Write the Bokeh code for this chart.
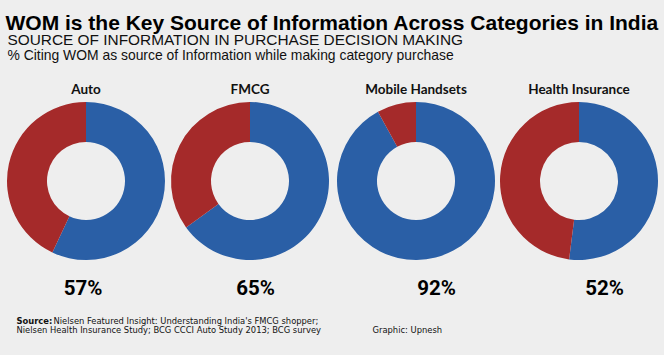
import math
from bokeh.plotting import figure
from bokeh.models import ColumnDataSource, Range1d, Label, GlobalInlineStyleSheet
from bokeh.core.properties import value
from bokeh.embed import file_html
from bokeh.resources import INLINE

# ---- data ----
categories = ["Auto", "FMCG", "Mobile Handsets", "Health Insurance"]
wom_pct = [57, 65, 92, 52]
pct_labels = ["57%", "65%", "92%", "52%"]

title = "WOM is the Key Source of Information Across Categories in India"
subtitle1 = "SOURCE OF INFORMATION IN PURCHASE DECISION MAKING"
subtitle2 = "% Citing WOM as source of Information while making category purchase"
source_bold = "Source:"
source_line1 = "Nielsen Featured Insight: Understanding India's FMCG shopper;"
source_line2 = "Nielsen Health Insurance Study; BCG CCCI Auto Study 2013; BCG survey"
credit = "Graphic: Upnesh"

# ---- layout (reference pixel coordinates, y measured downward) ----
H = 355
W_FIG, H_FIG = 664, 355
centers_x = [85.5, 249.5, 415.5, 578.5]
center_y = 180.5
label_x = [82.5, 255, 436, 604]
R_OUT, R_IN = 79, 39

BLUE = "#2a5fa6"
RED = "#a52a2a"
BG = "#eeeeee"

def Y(py):
    return H - py

p = figure(width=W_FIG, height=H_FIG, output_backend="svg", toolbar_location=None,
           x_range=Range1d(0, W_FIG), y_range=Range1d(0, H_FIG),
           min_border=0, outline_line_color=None,
           background_fill_color=BG, border_fill_color=BG)
p.axis.visible = False
p.grid.visible = False
p.stylesheets = [GlobalInlineStyleSheet(css=f"body {{ background: {BG}; }}")]

frac = [v / 100.0 for v in wom_pct]
src = ColumnDataSource(dict(
    x=centers_x,
    y=[Y(center_y)] * len(categories),
    start=[math.pi / 2] * len(categories),
    end=[math.pi / 2 - f * 2 * math.pi for f in frac],
))

# blue: WOM share, clockwise from 12 o'clock
p.annular_wedge(x="x", y="y", inner_radius=R_IN, outer_radius=R_OUT,
                start_angle="start", end_angle="end", direction="clock",
                fill_color=BLUE, line_color=None, source=src)
# red: remainder
p.annular_wedge(x="x", y="y", inner_radius=R_IN, outer_radius=R_OUT,
                start_angle="start", end_angle="end", direction="anticlock",
                fill_color=RED, line_color=None, source=src)

# category titles
cat_src = ColumnDataSource(dict(x=centers_x, y=[Y(88.5)] * 4, t=categories))
p.text(x="x", y="y", text="t", source=cat_src, text_align="center",
       text_baseline="alphabetic", text_font=value("Lato"), text_font_style="bold",
       text_font_size="13.5px", text_color="#111111")

# percentages
pct_src = ColumnDataSource(dict(x=label_x, y=[Y(287)] * 4, t=pct_labels))
p.text(x="x", y="y", text="t", source=pct_src, text_align="center",
       text_baseline="alphabetic", text_font=value("Roboto"),
       text_font_style="bold", text_font_size="20.5px", text_color="#000000")

# headings
p.add_layout(Label(x=5, y=Y(22), text=title, text_font="Liberation Sans",
                   text_font_style="bold", text_font_size="21px", text_color="#000000",
                   text_baseline="alphabetic"))
p.add_layout(Label(x=7, y=Y(39), text=subtitle1, text_font="Liberation Sans",
                   text_font_size="15.4px", text_color="#111111", text_baseline="alphabetic"))
p.add_layout(Label(x=7, y=Y(54), text=subtitle2, text_font="Liberation Sans",
                   text_font_size="13.9px", text_color="#111111", text_baseline="alphabetic"))

# source + credit
narrow = "DejaVu Sans Condensed"
p.add_layout(Label(x=16, y=Y(319.5), text=source_bold, text_font=narrow,
                   text_font_style="bold", text_font_size="9.3px", text_color="#111111",
                   text_baseline="alphabetic"))
p.add_layout(Label(x=53, y=Y(319.5), text=source_line1, text_font=narrow,
                   text_font_size="9.3px", text_color="#111111", text_baseline="alphabetic"))
p.add_layout(Label(x=16, y=Y(328.5), text=source_line2, text_font=narrow,
                   text_font_size="9.3px", text_color="#111111", text_baseline="alphabetic"))
p.add_layout(Label(x=372, y=Y(328.5), text=credit, text_font=narrow,
                   text_font_size="9.3px", text_color="#111111", text_baseline="alphabetic"))

open("out.html", "w").write(file_html(p, INLINE))
